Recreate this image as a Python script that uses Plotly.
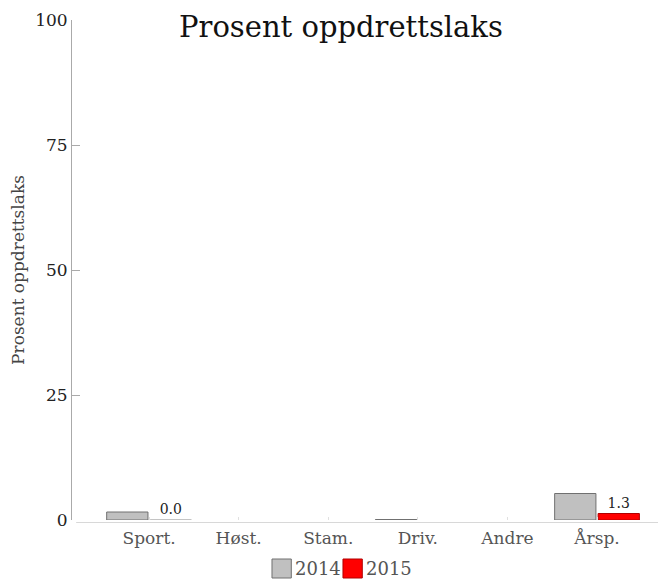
import plotly.graph_objects as go

categories = ["Sport.", "Høst.", "Stam.", "Driv.", "Andre", "Årsp."]
values_2014 = [1.6, None, None, 0.1, None, 5.3]
values_2015 = [0.0, None, None, None, None, 1.3]
series_names = ["2014", "2015"]
y_ticks = [0, 25, 50, 75, 100]

FONT = "DejaVu Serif"
GREY_FILL = "#c0c0c0"
GREY_LINE = "#707070"
RED_FILL = "#ff0000"
RED_LINE = "#b00000"
fills = [GREY_FILL, RED_FILL]
lines = [GREY_LINE, RED_LINE]

fig = go.Figure()
fig.add_trace(go.Bar(
    x=categories, y=values_2014, name=series_names[0],
    marker=dict(color=GREY_FILL, line=dict(color=GREY_LINE, width=1)),
    showlegend=False,
))
line_cols_2015 = ["#b0b0b0" if (v is not None and v == 0) else RED_LINE for v in values_2015]
fig.add_trace(go.Bar(
    x=categories, y=values_2015, name=series_names[1],
    marker=dict(color=RED_FILL, line=dict(color=line_cols_2015, width=1)),
    texttemplate="%{y:.1f}", textposition="outside", cliponaxis=False,
    textfont=dict(family=FONT, size=14, color="#222"),
    showlegend=False,
))

# compact legend drawn as boxes + labels below the plot
legend_shapes = []
legend_annots = []
box_x0 = [0.3367, 0.4562]
for i, name in enumerate(series_names):
    legend_shapes.append(dict(type="rect", xref="paper", yref="paper",
                              x0=box_x0[i], x1=box_x0[i] + 0.0325,
                              y0=-0.116, y1=-0.078,
                              fillcolor=fills[i], line=dict(color=lines[i], width=1)))
    legend_annots.append(dict(text=name, xref="paper", yref="paper",
                              x=box_x0[i] + 0.0355, y=-0.097,
                              xanchor="left", yanchor="middle", showarrow=False,
                              font=dict(family=FONT, size=18, color="#555")))

# The page body has an 8px default margin, so the figure is sized/shifted to compensate.
fig.update_layout(
    width=658, height=571,
    margin=dict(l=64, r=0, t=12, b=59, autoexpand=False),
    paper_bgcolor="white", plot_bgcolor="white",
    font=dict(family=FONT, color="#333"),
    bargap=0.03, bargroupgap=0.05, barmode="group",
    showlegend=False,
    xaxis=dict(type="category", categoryorder="array", categoryarray=categories,
               range=[-0.86, 5.77], showgrid=False, zeroline=False, showline=False,
               automargin=False,
               ticks="inside", ticklen=3, tickcolor="#e0e0e0",
               tickfont=dict(family=FONT, size=17, color="#555"),
               ticklabelstandoff=6),
    yaxis=dict(range=[0, 100], tickvals=y_ticks, showgrid=False, zeroline=False,
               automargin=False,
               showline=True, linecolor="#aaaaaa", linewidth=1,
               ticks="inside", ticklen=8, tickcolor="#aaaaaa",
               tickfont=dict(family=FONT, size=17, color="#222"),
               title=dict(text="Prosent oppdrettslaks", standoff=8,
                          font=dict(family=FONT, size=17, color="#444"))),
    shapes=[dict(type="line", xref="paper", yref="paper", x0=0.007, x1=1.0,
                 y0=-0.005, y1=-0.005, line=dict(color="#d8d8d8", width=1))] + legend_shapes,
    annotations=[dict(text="Prosent oppdrettslaks", xref="paper", yref="paper",
                      x=0.453, y=1.0, xanchor="center", yanchor="top",
                      yshift=12, showarrow=False,
                      font=dict(family=FONT, size=29, color="#111"))] + legend_annots,
)

fig.write_html("out.html")
